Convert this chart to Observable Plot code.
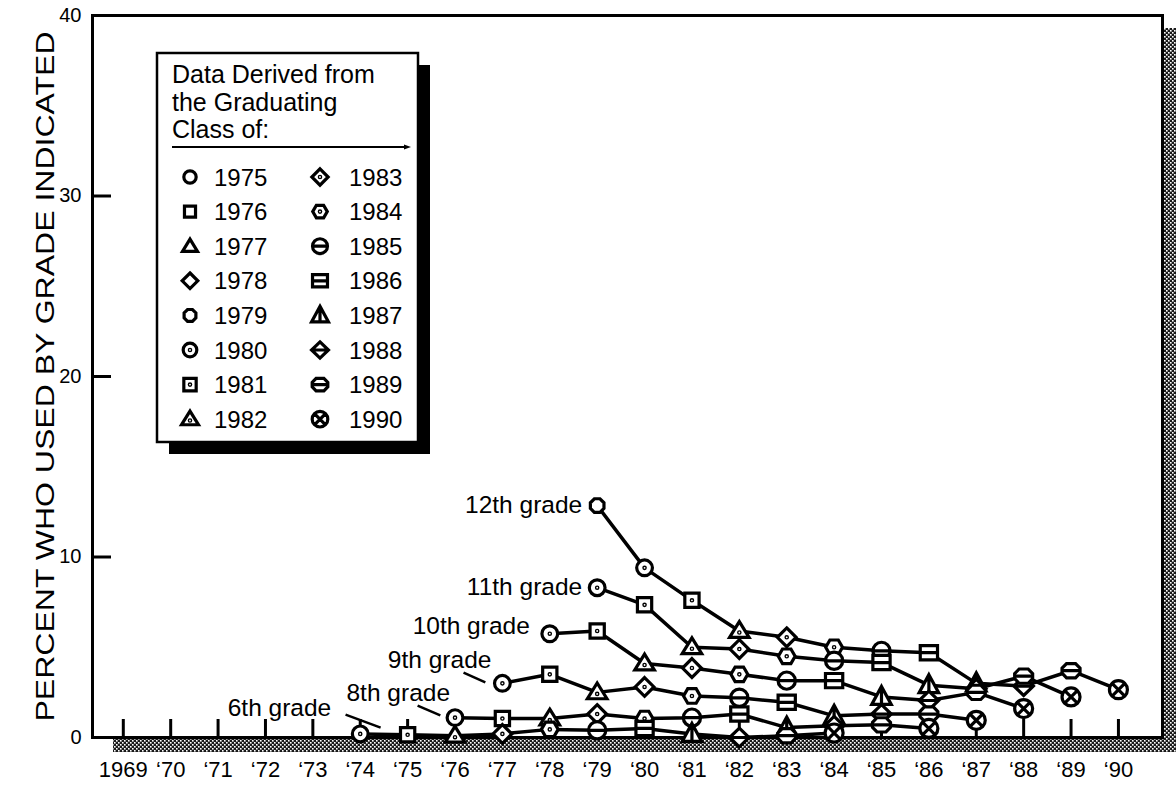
<!DOCTYPE html>
<html>
<head>
<meta charset="utf-8">
<script src="https://cdn.jsdelivr.net/npm/d3@7"></script>
<script src="https://cdn.jsdelivr.net/npm/@observablehq/plot@0.6"></script>
<style>
  body { margin: 0; background: #fff; }
  #wrap { position: relative; width: 1176px; height: 786px; overflow: hidden; background: #fff; }
  #wrap svg { position: absolute; left: 0; top: 0; }
</style>
</head>
<body>
<div id="wrap"></div>
<script>
// ---------------- data ----------------
const years = d3.range(1969, 1991);
const yTicks = [0, 10, 20, 30, 40];
const yInnerTicks = [10, 20, 30];
const yLabel = "PERCENT WHO USED BY GRADE INDICATED";
const xTickLabels = years.map(y => y === 1969 ? "1969" : "\u2018" + String(y).slice(2));

const gradeNames = ["12th grade", "11th grade", "10th grade", "9th grade", "8th grade", "6th grade"];
const gradeNums = [12, 11, 10, 9, 8, 6];
const gradeStart = [1979, 1979, 1978, 1977, 1976, 1974];

const grade12 = [12.85, 9.4, 7.6, 5.9, 5.55, 5.0, 4.8, 4.7, 3.0, 2.85, 3.7, 2.65];
const grade11 = [8.3, 7.35, 5.0, 4.9, 4.5, 4.25, 4.15, 2.9, 2.7, 3.4, 2.25];
const grade10 = [5.75, 5.9, 4.1, 3.85, 3.5, 3.15, 3.15, 2.25, 2.05, 2.5, 1.6];
const grade9  = [3.0, 3.5, 2.5, 2.8, 2.3, 2.2, 1.95, 1.2, 1.3, 1.3, 0.95];
const grade8  = [1.1, 1.05, 1.05, 1.3, 1.05, 1.1, 1.3, 0.55, 0.65, 0.7, 0.5];
const grade6  = [0.2, 0.15, 0.1, 0.2, 0.45, 0.4, 0.5, 0.2, 0, 0.1, 0.25];
const gradeValues = [grade12, grade11, grade10, grade9, grade8, grade6];

const classYears = d3.range(1975, 1991);
const legendTitle = ["Data Derived from", "the Graduating", "Class of:"];

// leader lines from labels toward the first point (data units)
const leaderGrades = ["9th grade", "8th grade", "6th grade"];
const leaderX1 = [1976.18, 1975.21, 1973.69];
const leaderY1 = [3.6, 1.77, 1.27];
const leaderX2 = [1976.64, 1975.69, 1974.43];
const leaderY2 = [3.05, 1.22, 0.55];

// ---------------- derived tables ----------------
const points = gradeNames.flatMap((g, k) =>
  gradeValues[k].map((v, i) => ({
    grade: g, year: gradeStart[k] + i, value: v,
    cls: gradeStart[k] + i + 12 - gradeNums[k]
  })));
const leaders = leaderGrades.map((g, i) => ({grade: g, x1: leaderX1[i], y1: leaderY1[i], x2: leaderX2[i], y2: leaderY2[i]}));
const firstPoints = gradeNames.map((g, k) => ({grade: g, year: gradeStart[k], value: gradeValues[k][0]}));

// ---------------- styles ----------------
const FONT = "'Liberation Sans', Arial, Helvetica, sans-serif";
const labelOffsets = [[-15, 0], [-15, -1], [-20, -8], [-11, -23], [-5, -24], [-29, -26]];

// ---------------- custom symbols ----------------
function sym(fn) { return {draw(ctx, size) { fn(ctx, Math.sqrt(size / Math.PI)); }}; }
function circ(c, r) { c.moveTo(r, 0); c.arc(0, 0, r, 0, 2 * Math.PI); c.closePath(); }
function poly(c, pts) { c.moveTo(pts[0][0], pts[0][1]); for (let i = 1; i < pts.length; i++) c.lineTo(pts[i][0], pts[i][1]); c.closePath(); }
function dot(c, x, y) { c.moveTo(x + 0.7, y); c.arc(x, y, 0.7, 0, 2 * Math.PI); c.closePath(); }
function hl(c, w, y = 0) { c.moveTo(-w, y); c.lineTo(w, y); }
function sq(c, w, h) { poly(c, [[-w, -h], [w, -h], [w, h], [-w, h]]); }
function tri(c, top, base, hw) { poly(c, [[0, -top], [hw, base], [-hw, base]]); }
function dia(c, h, w = h) { poly(c, [[0, -h], [w, 0], [0, h], [-w, 0]]); }
function oct(c, r) { const p = []; for (let k = 0; k < 8; k++) { const a = Math.PI / 8 + k * Math.PI / 4; p.push([r * Math.cos(a), r * Math.sin(a)]); } poly(c, p); }
function hex(c, w, h) { poly(c, [[-w, 0], [-w * 0.5, -h], [w * 0.5, -h], [w, 0], [w * 0.5, h], [-w * 0.5, h]]); }
function octw(c, w, h) { poly(c, [[-w, -h * 0.35], [-w * 0.5, -h], [w * 0.5, -h], [w, -h * 0.35], [w, h * 0.35], [w * 0.5, h], [-w * 0.5, h], [-w, h * 0.35]]); }

const symbolRange = [
  sym((c, s) => circ(c, 0.95 * s)),                                        // 1975
  sym((c, s) => sq(c, 0.85 * s, 0.85 * s)),                                // 1976
  sym((c, s) => tri(c, 1.1 * s, 0.8 * s, 1.15 * s)),                       // 1977
  sym((c, s) => dia(c, 1.2 * s)),                                          // 1978
  sym((c, s) => oct(c, 0.98 * s)),                                         // 1979
  sym((c, s) => { circ(c, 1.05 * s); dot(c, 0, 0); }),                     // 1980
  sym((c, s) => { sq(c, 0.95 * s, 0.95 * s); dot(c, 0, 0); }),             // 1981
  sym((c, s) => { tri(c, 1.25 * s, 0.85 * s, 1.3 * s); dot(c, 0, 0.2 * s); }), // 1982
  sym((c, s) => { dia(c, 1.25 * s); dot(c, 0, 0); }),                      // 1983
  sym((c, s) => { hex(c, 1.12 * s, 0.97 * s); dot(c, 0, 0); }),            // 1984
  sym((c, s) => { circ(c, 1.15 * s); hl(c, 1.15 * s); }),                  // 1985
  sym((c, s) => { sq(c, 1.15 * s, 0.95 * s); hl(c, 1.15 * s); }),          // 1986
  sym((c, s) => { tri(c, 1.4 * s, 1.0 * s, 1.3 * s); c.moveTo(0, -1.4 * s); c.lineTo(0, 1.0 * s); }), // 1987
  sym((c, s) => { dia(c, 1.25 * s, 1.3 * s); hl(c, 1.3 * s); }),           // 1988
  sym((c, s) => { octw(c, 1.2 * s, 0.95 * s); hl(c, 1.2 * s); }),          // 1989
  sym((c, s) => { circ(c, 1.2 * s); const d = 0.78 * s; c.moveTo(-d, -d); c.lineTo(d, d); c.moveTo(d, -d); c.lineTo(-d, d); }) // 1990
];

// ---------------- chart ----------------
const chart = Plot.plot({
  width: 1176,
  height: 786,
  marginLeft: 92,
  marginRight: 14,
  marginTop: 15,
  marginBottom: 49,
  style: {fontFamily: FONT, fontSize: "20px", color: "black", background: "white", overflow: "visible"},
  x: {domain: [1968.35, 1990.93], label: null},
  y: {domain: [0, 40], label: null},
  symbol: {domain: classYears, range: symbolRange},
  marks: [
    Plot.axisX({ticks: years, tickFormat: (d) => xTickLabels[years.indexOf(d)], tickSize: -18, tickPadding: 42, strokeWidth: 3, fontSize: 22, label: null}),
    Plot.axisY({ticks: yInnerTicks, tickSize: -19, tickFormat: () => "", strokeWidth: 3, label: null}),
    Plot.axisY({ticks: yTicks, tickSize: 0, tickPadding: 11, fontSize: 20, label: null}),
    Plot.frame({stroke: "black", strokeWidth: 3}),
    Plot.text([yLabel], {text: d => d, frameAnchor: "left", dx: -47, rotate: -90, fontSize: 26, textAnchor: "middle", lineAnchor: "middle"}),
    Plot.link(leaders, {x1: "x1", y1: "y1", x2: "x2", y2: "y2", stroke: "black", strokeWidth: 2.5}),
    ...firstPoints.map((p, k) => Plot.text([p], {x: "year", y: "value", text: "grade", dx: labelOffsets[k][0], dy: labelOffsets[k][1], textAnchor: "end", lineAnchor: "middle", fontSize: 24.5})),
    Plot.line(points, {x: "year", y: "value", z: "grade", stroke: "black", strokeWidth: 3.5}),
    Plot.dot(points, {x: "year", y: "value", symbol: "cls", r: 7.5, fill: "white", stroke: "black", strokeWidth: 3.2})
  ]
});

const wrap = document.getElementById("wrap");
wrap.appendChild(chart);

// stretch the y label to the reference's length
d3.select(chart).selectAll("text").filter(function () { return this.textContent === yLabel; })
  .attr("textLength", 690).attr("lengthAdjust", "spacingAndGlyphs");

// stippled shadow along the right and bottom of the frame
(function () {
  const svg = d3.select(chart);
  const xr = chart.scale("x").range, yr = chart.scale("y").range;
  const left = xr[0], right = xr[1], bottom = yr[0], top = yr[1];
  const defs = svg.insert("defs", ":first-child");
  const pat = defs.append("pattern").attr("id", "stipple").attr("width", 4).attr("height", 4).attr("patternUnits", "userSpaceOnUse");
  pat.append("rect").attr("width", 4).attr("height", 4).attr("fill", "#1a1a1a");
  pat.append("rect").attr("x", 0).attr("y", 0).attr("width", 1.6).attr("height", 1.6).attr("fill", "#fff");
  pat.append("rect").attr("x", 2).attr("y", 2).attr("width", 1.6).attr("height", 1.6).attr("fill", "#fff");
  const g = svg.insert("g", "defs + *");
  g.append("rect").attr("x", left + 21).attr("y", bottom + 2).attr("width", right + 14 - (left + 21)).attr("height", 13).attr("fill", "url(#stipple)");
  g.append("rect").attr("x", right + 2).attr("y", top + 13).attr("width", 12).attr("height", bottom + 15 - (top + 13)).attr("fill", "url(#stipple)");
})();

// legend box
(function () {
  const L = d3.select(wrap).append("svg").attr("width", 1176).attr("height", 786)
    .style("font-family", FONT).style("pointer-events", "none");
  const bx = 157, by = 53, bw = 261, bh = 389;
  L.append("rect").attr("x", bx + 12).attr("y", by + 12).attr("width", bw).attr("height", bh).attr("fill", "black");
  L.append("rect").attr("x", bx).attr("y", by).attr("width", bw).attr("height", bh).attr("fill", "white").attr("stroke", "black").attr("stroke-width", 2.5);
  legendTitle.forEach((t, i) => {
    L.append("text").attr("x", 172).attr("y", 83 + i * 27.5).attr("font-size", 25).text(t);
  });
  L.append("line").attr("x1", 172).attr("x2", 408).attr("y1", 147).attr("y2", 147).attr("stroke", "black").attr("stroke-width", 2);
  L.append("path").attr("d", "M404,144.5L411,147L404,149.5Z").attr("fill", "black");
  const rLeg = 6.5;
  classYears.forEach((c, i) => {
    const col = i < 8 ? 0 : 1, row = i % 8;
    const cy = 177 + row * 34.6;
    const cx = col === 0 ? 190 : 320;
    const tx = col === 0 ? 214 : 349;
    const p = d3.path();
    symbolRange[i].draw(p, rLeg * rLeg * Math.PI);
    L.append("path").attr("d", p.toString()).attr("transform", `translate(${cx},${cy})`)
      .attr("fill", "white").attr("stroke", "black").attr("stroke-width", 3.2);
    L.append("text").attr("x", tx).attr("y", cy + 8.6).attr("font-size", 24).text(String(c));
  });
})();
</script>
</body>
</html>
